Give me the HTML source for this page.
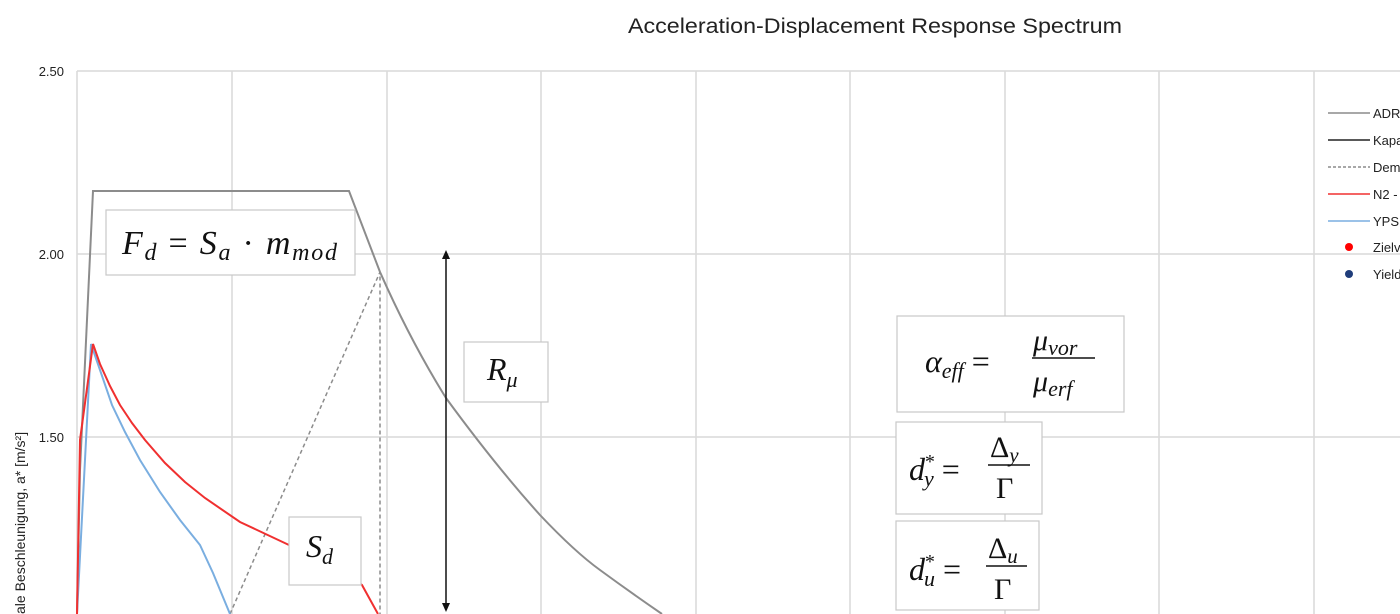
<!DOCTYPE html>
<html><head><meta charset="utf-8"><style>
html,body{margin:0;padding:0;background:#fff;}
svg{display:block;}
.m{font-family:"Liberation Serif","DejaVu Serif",serif;font-style:italic;fill:#111;}
.r{font-family:"Liberation Serif","DejaVu Serif",serif;fill:#111;}
.s{font-family:"Liberation Sans",Arial,sans-serif;fill:#222;}
</style></head><body>
<svg width="1400" height="614" viewBox="0 0 1400 614" xmlns="http://www.w3.org/2000/svg">
<rect width="1400" height="614" fill="#fff"/>
<text x="875" y="33" class="s" font-size="21" text-anchor="middle" textLength="494" lengthAdjust="spacingAndGlyphs">Acceleration-Displacement Response Spectrum</text>
<g stroke="#d9d9d9" stroke-width="1.5">
<line x1="77" y1="71" x2="1400" y2="71"/>
<line x1="77" y1="254" x2="1400" y2="254"/>
<line x1="77" y1="437" x2="1400" y2="437"/>
<line x1="77" y1="71" x2="77" y2="614"/>
<line x1="232" y1="71" x2="232" y2="614"/>
<line x1="387" y1="71" x2="387" y2="614"/>
<line x1="541" y1="71" x2="541" y2="614"/>
<line x1="696" y1="71" x2="696" y2="614"/>
<line x1="850" y1="71" x2="850" y2="614"/>
<line x1="1005" y1="71" x2="1005" y2="614"/>
<line x1="1159" y1="71" x2="1159" y2="614"/>
<line x1="1314" y1="71" x2="1314" y2="614"/>
</g>
<g class="s" font-size="13" text-anchor="end">
<text x="64" y="76">2.50</text>
<text x="64" y="259">2.00</text>
<text x="64" y="442">1.50</text>
</g>
<text class="s" font-size="14" transform="translate(25,614) rotate(-90)">ale Beschleunigung, a* [m/s²]</text>
<path d="M77,614 L80,470 L93,191 L349,191 L380,272 Q410,340 446,398 Q495,465 540,515 Q575,552 600,570 Q630,592 662,614" fill="none" stroke="#8c8c8c" stroke-width="2"/>
<path d="M230,614 L380,272 L380,614" fill="none" stroke="#8c8c8c" stroke-width="1.5" stroke-dasharray="4,3"/>
<path d="M77,614 L91,344 L100,370 L112,405 L125,432 L140,460 L160,492 L180,520 L200,545 L213,573 L230,614" fill="none" stroke="#7aaee0" stroke-width="2"/>
<path d="M77,614 L80,440 L93,344 L100,364 L110,386 L120,405 L132,423 L145,440 L165,463 L185,482 L205,498 L240,522 L289,545 L340,570 L362,585 L378,614" fill="none" stroke="#f03030" stroke-width="2"/>
<line x1="446" y1="258" x2="446" y2="604" stroke="#111" stroke-width="1.5"/>
<polygon points="446,250 442,259 450,259" fill="#111"/>
<polygon points="446,612 442,603 450,603" fill="#111"/>
<g stroke-width="1.5">
<line x1="1328" y1="113" x2="1370" y2="113" stroke="#8c8c8c"/>
<line x1="1328" y1="140" x2="1370" y2="140" stroke="#222"/>
<line x1="1328" y1="167" x2="1370" y2="167" stroke="#8c8c8c" stroke-dasharray="3,2"/>
<line x1="1328" y1="194" x2="1370" y2="194" stroke="#f03030"/>
<line x1="1328" y1="221" x2="1370" y2="221" stroke="#7aaee0"/>
</g>
<circle cx="1349" cy="247" r="4" fill="#ff0000"/>
<circle cx="1349" cy="274" r="4" fill="#1f3d7a"/>
<g class="s" font-size="13">
<text x="1373" y="118">ADRS</text><text x="1373" y="145">Kapazität</text><text x="1373" y="172">Demand</text>
<text x="1373" y="199">N2 - </text><text x="1373" y="226">YPS</text><text x="1373" y="252">Zielv</text><text x="1373" y="279">Yield</text>
</g>
<g fill="#fff" stroke="#c8c8c8" stroke-width="1.2">
<rect x="106" y="210" width="249" height="65"/>
<rect x="464" y="342" width="84" height="60"/>
<rect x="289" y="517" width="72" height="68"/>
<rect x="897" y="316" width="227" height="96"/>
<rect x="896" y="422" width="146" height="92"/>
<rect x="896" y="521" width="143" height="89"/>
</g>
<text x="122" y="254" class="m" font-size="34" textLength="215" lengthAdjust="spacing">F<tspan font-size="24" dy="6">d</tspan><tspan class="r" font-style="normal" dy="-6"> = </tspan>S<tspan font-size="24" dy="6">a</tspan><tspan font-style="normal" dy="-6"> · </tspan>m<tspan font-size="24" dy="6">mod</tspan></text>
<text x="487" y="380" class="m" font-size="32">R<tspan font-size="22" dy="7">μ</tspan></text>
<text x="306" y="557" class="m" font-size="32">S<tspan font-size="22" dy="7">d</tspan></text>
<text x="925" y="372" class="m" font-size="32">α<tspan font-size="22" dy="6">eff</tspan><tspan font-style="normal" dy="-6"> =</tspan></text>
<text x="1033" y="350" class="m" font-size="30">μ<tspan font-size="22" dy="5">vor</tspan></text>
<line x1="1032" y1="358" x2="1095" y2="358" stroke="#111" stroke-width="1.5"/>
<text x="1033" y="391" class="m" font-size="30">μ<tspan font-size="22" dy="5">erf</tspan></text>
<text x="909" y="480" class="m" font-size="32">d<tspan font-size="20" dy="-12" dx="-1">*</tspan><tspan font-size="22" dy="18" dx="-10">y</tspan><tspan font-style="normal" dy="-6"> =</tspan></text>
<line x1="988" y1="465" x2="1030" y2="465" stroke="#111" stroke-width="1.5"/>
<text x="990" y="457" class="r" font-size="30">Δ<tspan class="m" font-size="21" dy="5">y</tspan></text>
<text x="996" y="498" class="r" font-size="30">Γ</text>
<text x="909" y="580" class="m" font-size="32">d<tspan font-size="20" dy="-12" dx="-1">*</tspan><tspan font-size="22" dy="18" dx="-10">u</tspan><tspan font-style="normal" dy="-6"> =</tspan></text>
<line x1="986" y1="566" x2="1027" y2="566" stroke="#111" stroke-width="1.5"/>
<text x="988" y="558" class="r" font-size="30">Δ<tspan class="m" font-size="21" dy="5">u</tspan></text>
<text x="994" y="599" class="r" font-size="30">Γ</text>
</svg>
</body></html>
